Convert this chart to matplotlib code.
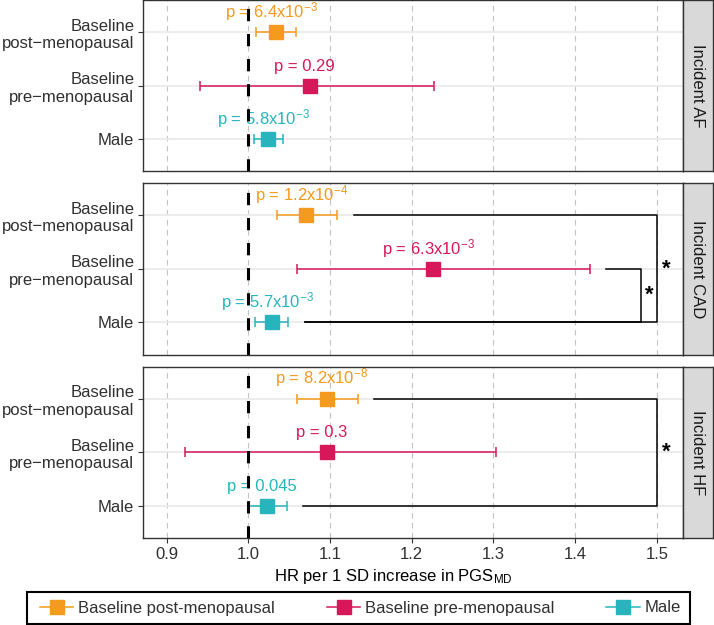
import matplotlib
matplotlib.use('Agg')
import numpy as np
import matplotlib.pyplot as plt
from matplotlib.lines import Line2D
from matplotlib.patches import Rectangle

plt.rcParams['font.family'] = ['Liberation Sans', 'DejaVu Sans']
plt.rcParams['mathtext.fontset'] = 'custom'
plt.rcParams['mathtext.rm'] = 'Liberation Sans'
plt.rcParams['mathtext.default'] = 'regular'

# groups, top row first
groups = ['Baseline post-menopausal', 'Baseline pre-menopausal', 'Male']
row_labels = ['Baseline\npost\u2212menopausal', 'Baseline\npre\u2212menopausal', 'Male']
colors = ['#F49A1C', '#D6185A', '#27B4BC']
outcomes = ['Incident AF', 'Incident CAD', 'Incident HF']

hr_af = [1.034, 1.075, 1.0245]
lo_af = [1.009, 0.941, 1.007]
hi_af = [1.058, 1.227, 1.042]
p_af = ['6.4x10$^{-3}$', '0.29', '5.8x10$^{-3}$']

hr_cad = [1.071, 1.226, 1.029]
lo_cad = [1.035, 1.059, 1.008]
hi_cad = [1.109, 1.418, 1.049]
p_cad = ['1.2x10$^{-4}$', '6.3x10$^{-3}$', '5.7x10$^{-3}$']

hr_hf = [1.096, 1.096, 1.023]
lo_hf = [1.059, 0.922, 1.001]
hi_hf = [1.134, 1.303, 1.047]
p_hf = ['8.2x10$^{-8}$', '0.3', '0.045']

# significance brackets: (row a, row b, x of vertical)
br_af = []
br_cad = [(0, 2, 1.5), (1, 2, 1.48)]
br_hf = [(0, 2, 1.5)]

xticks = [0.9, 1.0, 1.1, 1.2, 1.3, 1.4, 1.5]

panels = [
    (hr_af, lo_af, hi_af, p_af, br_af),
    (hr_cad, lo_cad, hi_cad, p_cad, br_cad),
    (hr_hf, lo_hf, hi_hf, p_hf, br_hf),
]

W, H = 714, 625
fig = plt.figure(figsize=(W / 100, H / 100), dpi=100)

left, right = 142.7, 682.7
tops = [0.0, 183.3, 366.7]
ph = 171.3
fs = 12
txtcol = '#303030'
ypos = np.array([3, 2, 1])

for i, (hr, lo, hi, pl, brs) in enumerate(panels):
    bottom = (H - tops[i] - ph) / H
    ax = fig.add_axes([left / W, bottom, (right - left) / W, ph / H])
    ax.set_xlim(0.8706, 1.5316)
    ax.set_ylim(0.4, 3.6)

    for t in xticks:
        ax.axvline(t, color='#C4C4C4', lw=0.8, ls=(0, (5, 4)), zorder=0)
    for y in ypos:
        ax.axhline(y, color='#EBEBEB', lw=1.3, zorder=0)

    hr = np.array(hr)
    lo = np.array(lo)
    hi = np.array(hi)
    for j in range(3):
        ax.errorbar(hr[j], ypos[j], xerr=[[hr[j] - lo[j]], [hi[j] - hr[j]]],
                    fmt='s', color=colors[j], ms=9.5, capsize=3.6,
                    elinewidth=1.1, capthick=1.1, zorder=3)
        ax.text(hr[j] - 0.006, ypos[j] + 0.28, 'p = ' + pl[j], color=colors[j],
                ha='center', va='baseline', fontsize=fs, zorder=2)

    for a, b, xv in brs:
        ya, yb = ypos[a], ypos[b]
        ax.plot([hi[a] + 0.02, xv, xv, hi[b] + 0.02], [ya, ya, yb, yb],
                color='black', lw=1.1, zorder=3)
        ax.text(xv + 0.011, (ya + yb) / 2, '*', fontsize=16, fontweight='bold',
                ha='center', va='center', color='black')

    ax.axvline(1.0, color='black', lw=2.2, ls=(0, (4, 4.2)), zorder=5)

    for s in ax.spines.values():
        s.set_color('#333333')
        s.set_linewidth(1.0)
    ax.set_yticks(ypos)
    ax.set_yticklabels(row_labels, fontsize=fs, color=txtcol)
    ax.tick_params(axis='y', length=3.6, width=0.8, color='#333333', pad=2.5)
    ax.set_xticks(xticks)
    if i == 2:
        ax.set_xticklabels(['%.1f' % t for t in xticks], fontsize=fs, color=txtcol)
        ax.tick_params(axis='x', length=3.6, width=0.8, color='#333333', pad=3)
    else:
        ax.tick_params(axis='x', length=0, labelbottom=False)

    # facet strip
    sx = fig.add_axes([right / W, bottom, (713 - right) / W, ph / H])
    sx.set_facecolor('#D9D9D9')
    sx.set_xticks([])
    sx.set_yticks([])
    for s in sx.spines.values():
        s.set_color('#333333')
        s.set_linewidth(1.0)
    sx.text(0.5, 0.5, outcomes[i], rotation=270, ha='center', va='center',
            fontsize=fs, color='#1A1A1A', transform=sx.transAxes)

fig.text(274 / W, (H - 577) / H, r'HR per 1 SD increase in PGS$_{MD}$',
         ha='left', va='center', fontsize=fs, color='black')

# legend box
fig.patches.append(Rectangle((27 / W, 1 / H), 663 / W, 32 / H, transform=fig.transFigure,
                             fill=False, edgecolor='black', lw=1.5))
handles = [Line2D([], [], color=c, marker='s', ms=9.5, lw=1.1) for c in colors]
leg = fig.legend(handles, groups, loc='center left',
                 bbox_to_anchor=(40 / W, 1 / H, 641 / W, 32 / H), mode='expand',
                 ncol=3, frameon=False, borderaxespad=0, borderpad=0,
                 handlelength=2.0, handletextpad=0.3, fontsize=fs)
for t in leg.get_texts():
    t.set_color(txtcol)

fig.savefig('out.png', dpi=100)
